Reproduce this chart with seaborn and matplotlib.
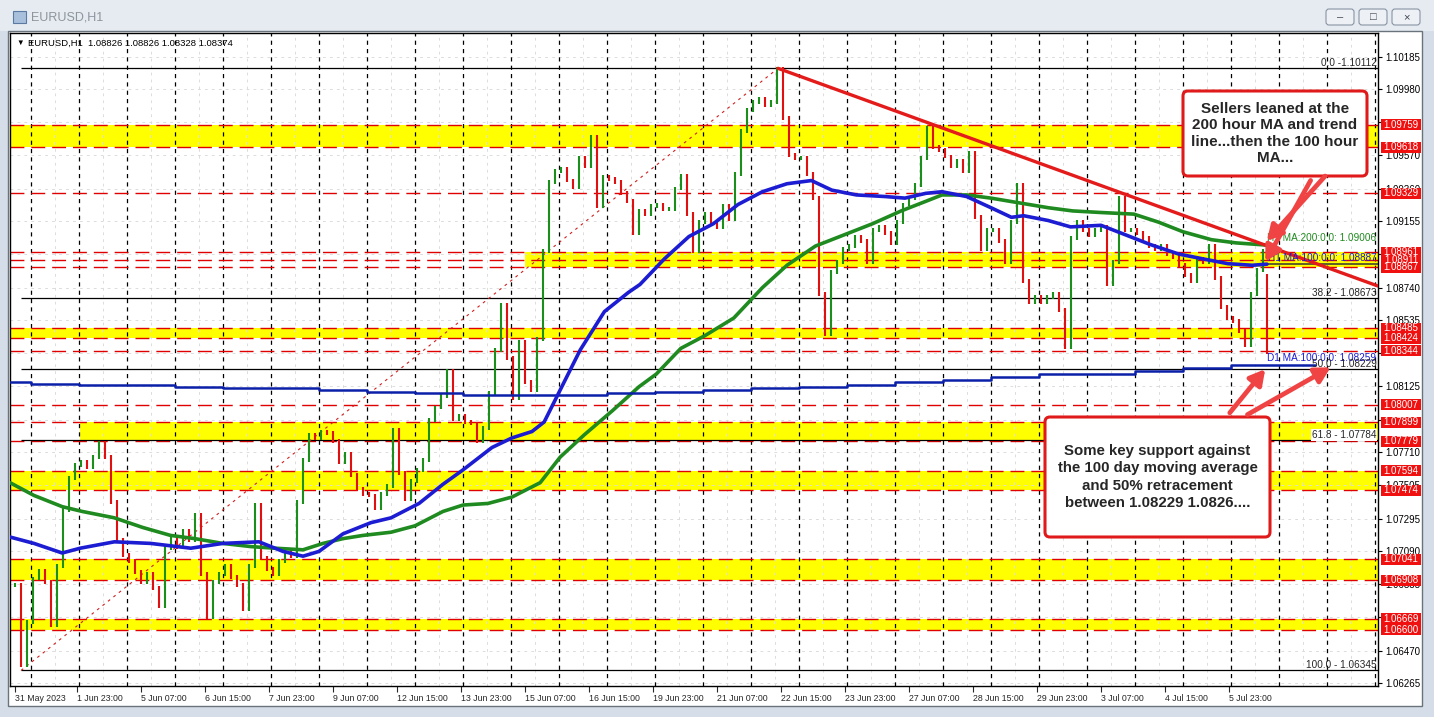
import numpy as np
import matplotlib
matplotlib.use("Agg")
import matplotlib.pyplot as plt
import matplotlib.transforms as mtransforms
from matplotlib.patches import Rectangle, FancyBboxPatch, FancyArrowPatch
import seaborn as sns

# ---- EURUSD H1, bar 0 = 31 May 16:00, closes read every 3 bars ----
bar_step = 3
closes = [
    1.0688, 1.0638, 1.0665, 1.0692, 1.0697, 1.0690, 1.0663, 1.0700,
    1.0735, 1.0755, 1.0763, 1.0765, 1.0762, 1.0768, 1.0777, 1.0768,
    1.0740, 1.0716, 1.0707, 1.0703, 1.0696, 1.0690, 1.0695, 1.0686,
    1.0675, 1.0711, 1.0718, 1.0712, 1.0722, 1.0716, 1.0732, 1.0695,
    1.0668, 1.0690, 1.0695, 1.0700, 1.0693, 1.0688, 1.0673, 1.0700,
    1.0738, 1.0705, 1.0698, 1.0695, 1.0703, 1.0710, 1.0706, 1.0740,
    1.0766, 1.0782, 1.0780, 1.0784, 1.0783, 1.0778, 1.0765, 1.0770,
    1.0757, 1.0748, 1.0745, 1.0744, 1.0736, 1.0745, 1.0750, 1.0785,
    1.0758, 1.0742, 1.0753, 1.0760, 1.0766, 1.0791, 1.0799, 1.0806,
    1.0822, 1.0792, 1.0794, 1.0790, 1.0789, 1.0778, 1.0786, 1.0808,
    1.0835, 1.0863, 1.0830, 1.0805, 1.0840, 1.0815, 1.0810, 1.0842,
    1.0897, 1.0940, 1.0947, 1.0948, 1.0941, 1.0937, 1.0955, 1.0950,
    1.0968, 1.0925, 1.0943, 1.0942, 1.0940, 1.0933, 1.0928, 1.0908,
    1.0922, 1.0920, 1.0925, 1.0926, 1.0923, 1.0923, 1.0936, 1.0944,
    1.0920, 1.0897, 1.0915, 1.0920, 1.0915, 1.0912, 1.0925, 1.0917,
    1.0945, 1.0972, 1.0985, 1.0990, 1.0992, 1.0988, 1.0990, 1.1011,
    1.0980, 1.0957, 1.0955, 1.0955, 1.0945, 1.0930, 1.0870, 1.0845,
    1.0884, 1.0890, 1.0898, 1.0900, 1.0906, 1.0903, 1.0890, 1.0910,
    1.0912, 1.0908, 1.0902, 1.0915, 1.0926, 1.0930, 1.0938, 1.0955,
    1.0974, 1.0962, 1.0960, 1.0956, 1.0950, 1.0953, 1.0947, 1.0958,
    1.0918, 1.0898, 1.0910, 1.0910, 1.0903, 1.0890, 1.0915, 1.0938,
    1.0878, 1.0865, 1.0868, 1.0865, 1.0868, 1.0870, 1.0860, 1.0837,
    1.0905, 1.0915, 1.0910, 1.0907, 1.0910, 1.0912, 1.0876, 1.0890,
    1.0930, 1.0910, 1.0910, 1.0908, 1.0905, 1.0900, 1.0898, 1.0900,
    1.0895, 1.0893, 1.0888, 1.0882, 1.0878, 1.0892, 1.0890, 1.0900,
    1.0880, 1.0862, 1.0855, 1.0853, 1.0847, 1.0838, 1.0870, 1.0885,
    1.0897,
]
last_bar = 626
last_ohlc = [1.08826, 1.08826, 1.08328, 1.08374]

# moving averages (bar index, price)
ma100_x = [-2.5, 9.5, 23.6, 32.6, 49.7, 67.8, 87.9, 103.9, 122, 134, 144, 152, 164, 178,
           188, 202, 214, 224, 238.5, 248.5, 258.5, 264.6, 272.6, 282.6, 294.7, 306.7,
           312.5, 324.7, 337, 349.2, 361.5, 373.7, 386, 398.2, 408.4, 420.7, 435, 445,
           455.4, 463.5, 475.8, 488, 498.2, 504.3, 516.6, 527.8, 543, 553.3, 567.6,
           581.9, 594, 606.4, 618.6, 626]
ma100_y = [1.0718, 1.0714, 1.0708, 1.0711, 1.0715, 1.0714, 1.0711, 1.0714, 1.0715, 1.0709,
           1.0706, 1.0709, 1.0720, 1.0727, 1.0730, 1.0739, 1.0751, 1.0760, 1.0774, 1.0780,
           1.0784, 1.0790, 1.0810, 1.0835, 1.0859, 1.0871, 1.0876, 1.0892, 1.0906, 1.0914,
           1.0926, 1.0934, 1.0939, 1.0941, 1.0935, 1.0932, 1.0931, 1.0930, 1.0933, 1.0934,
           1.0931, 1.0924, 1.0918, 1.0919, 1.0916, 1.0912, 1.0913, 1.0908, 1.0901, 1.0895,
           1.0892, 1.0889, 1.0888, 1.08887]
ma200_x = [-2.5, 9.5, 23.6, 33.6, 49.7, 63.8, 77.8, 89.9, 103.9, 118, 130, 144, 154, 164,
           174, 188, 200, 214, 224, 236.5, 248.5, 262.6, 272.6, 284.7, 298.7, 312, 320.7,
           332.9, 345, 359.4, 373.7, 386, 400.2, 414.5, 428.8, 443.1, 455.4, 463.5, 475.8,
           488, 502.3, 516.6, 528.8, 543, 559.4, 571.7, 583.9, 598.2, 610.5, 626]
ma200_y = [1.0752, 1.0744, 1.0737, 1.0734, 1.0730, 1.0724, 1.0719, 1.0717, 1.0714, 1.0712,
           1.0711, 1.0710, 1.0714, 1.0717, 1.0719, 1.0721, 1.0725, 1.0734, 1.0738, 1.0739,
           1.0743, 1.0752, 1.0768, 1.0782, 1.0797, 1.0812, 1.0820, 1.0836, 1.0844, 1.0855,
           1.0874, 1.0888, 1.0900, 1.0907, 1.0914, 1.0922, 1.0928, 1.0932, 1.0932, 1.0930,
           1.0927, 1.0924, 1.0922, 1.0921, 1.0920, 1.0915, 1.0909, 1.0904, 1.0902, 1.09006]
d1_x = [-2.5, 8, 32, 56, 80, 104, 128, 152, 176, 200, 224, 248, 272, 296, 320, 344, 368,
        392, 416, 440, 464, 488, 512, 536, 560, 584, 608, 650]
d1_y = [1.0815, 1.0814, 1.0813, 1.0813, 1.0812, 1.0811, 1.0811, 1.0810, 1.0809, 1.0808,
        1.0807, 1.0807, 1.0807, 1.0808, 1.0809, 1.0810, 1.0811, 1.0812, 1.0813, 1.0815,
        1.0816, 1.0818, 1.0820, 1.0820, 1.0822, 1.0824, 1.08259, 1.08259]

# drawn objects
trend_x, trend_y = [381.5, 681.5], [1.10112, 1.08750]
fib_x, fib_y = [3, 381.5], [1.06345, 1.10112]
fib_names = ["0.0", "38.2", "50.0", "61.8", "100.0"]
fib_levels = [1.10112, 1.08673, 1.08229, 1.07784, 1.06345]
band_lo = [1.09618, 1.08867, 1.08424, 1.07779, 1.07474, 1.06908, 1.06600]
band_hi = [1.09759, 1.08961, 1.08485, 1.07899, 1.07594, 1.07041, 1.06669]
band_start = [-2.5, 255, -2.5, 32.5, -2.5, -2.5, -2.5]
levels = [1.09759, 1.09618, 1.09329, 1.08961, 1.08911, 1.08867, 1.08485, 1.08424, 1.08344,
          1.08007, 1.07899, 1.07779, 1.07594, 1.07474, 1.07041, 1.06908, 1.06669, 1.06600]
price_ticks = [1.10185, 1.09980, 1.09775, 1.09570, 1.09360, 1.09155, 1.08950, 1.08740,
               1.08535, 1.08330, 1.08125, 1.07915, 1.07710, 1.07505, 1.07295, 1.07090,
               1.06885, 1.06680, 1.06470, 1.06265]
# tick values whose label is fully covered by a red price box
covered_ticks = [1.09775, 1.08950, 1.08330, 1.07915, 1.06680]
date_labels = ["31 May 2023", "1 Jun 23:00", "5 Jun 07:00", "6 Jun 15:00", "7 Jun 23:00",
               "9 Jun 07:00", "12 Jun 15:00", "13 Jun 23:00", "15 Jun 07:00", "16 Jun 15:00",
               "19 Jun 23:00", "21 Jun 07:00", "22 Jun 15:00", "23 Jun 23:00", "27 Jun 07:00",
               "28 Jun 15:00", "29 Jun 23:00", "3 Jul 07:00", "4 Jul 15:00", "5 Jul 23:00"]
date_pos = [0] + [31 + 32 * k for k in range(19)]

X_LEFT, X_RIGHT = -2.5, 681.5
Y_BOT, Y_TOP = 1.06248, 1.10333

sns.set_style("white")
plt.rcParams["font.family"] = ["Liberation Sans", "DejaVu Sans"]
plt.rcParams["lines.scale_dashes"] = False

W, H = 1434, 717
fig = plt.figure(figsize=(W / 100, H / 100), dpi=100, facecolor="#d5dde8")
px = mtransforms.Affine2D().scale(1 / W, -1 / H).translate(0, 1) + fig.transFigure

# window chrome
fig.add_artist(Rectangle((0, 0), W, 31, transform=px, fc="#e6ebf1", ec="none", zorder=-10))
fig.add_artist(Rectangle((8, 31), 1414, 675, transform=px, fc="white", ec="#6a727c", lw=1, zorder=-9))
fig.add_artist(Rectangle((13, 11), 13, 12, transform=px, fc="#a9c0dc", ec="#5b7aa3", lw=0.8, zorder=-8))
fig.text(31, 18, "EURUSD,H1", transform=px, va="center", ha="left", size=9, color="#8d949c")
for x0, sym in zip([1326, 1359, 1392], ["–", "□", "×"]):
    fig.add_artist(FancyBboxPatch((x0, 9), 28, 16, boxstyle="round,pad=0,rounding_size=3",
                                  transform=px, fc="#edf1f6", ec="#8893a2", lw=0.8, zorder=-8))
    fig.text(x0 + 14, 17, sym, transform=px, ha="center", va="center", size=8, color="#404650")

ax = fig.add_axes([10 / W, 1 - 686 / H, 1368 / W, 653 / H])
ax.set_facecolor("white")

# yellow zones
for lo, hi, x0 in zip(band_lo, band_hi, band_start):
    ax.fill_between([x0, X_RIGHT], lo, hi, color="#ffff00", lw=0, zorder=1)

# grid
for p in price_ticks:
    ax.axhline(p, color="#dcdcdc", lw=0.7, ls=(0, (2, 3)), zorder=1.2)
for d in range(20, 682, 24):
    ax.axvline(d, color="#dcdcdc", lw=0.7, ls=(0, (2, 3)), zorder=1.2)
for d in range(8, 682, 24):
    ax.axvline(d, color="black", lw=0.9, ls=(0, (3, 3)), zorder=2)

ax.hlines(levels, X_LEFT, X_RIGHT, colors="#e00000", lw=1.0, linestyles=(0, (10, 5)), zorder=2.2)

# fibonacci
ax.hlines(fib_levels, fib_x[0], X_RIGHT, colors="black", lw=0.9, zorder=2.3)
ax.plot(fib_x, fib_y, color="#d02020", lw=0.8, ls=(0, (2, 3)), zorder=2.4)

# price bars
c = np.array(closes)
idx = np.arange(len(c)) * bar_step
prev = np.r_[c[0], c[:-1]]
up = c >= prev
lo_b = np.minimum(prev, c) - 0.00012
hi_b = np.maximum(prev, c) + 0.00012
ax.vlines(idx[up], lo_b[up], hi_b[up], colors="#1a8f1a", lw=1.5, zorder=3)
ax.vlines(idx[~up], lo_b[~up], hi_b[~up], colors="#e01010", lw=1.5, zorder=3)
ax.vlines(last_bar, last_ohlc[2], last_ohlc[1], colors="#e01010", lw=1.5, zorder=3)

# moving averages
sns.lineplot(x=ma200_x, y=ma200_y, ax=ax, color="#1f8a1f", lw=2.6, zorder=4)
sns.lineplot(x=ma100_x, y=ma100_y, ax=ax, color="#1c1cd2", lw=2.6, zorder=4.1)
sns.lineplot(x=d1_x, y=d1_y, ax=ax, color="#0b20a8", lw=1.8, drawstyle="steps-post", zorder=4)
ax.hlines(ma100_y[-1], last_bar, X_RIGHT, colors="#333333", lw=1.1, zorder=4)

# trend line
ax.plot(trend_x, trend_y, color="#e41b1b", lw=2.4, zorder=4.5)

ax.set_xlim(X_LEFT, X_RIGHT)
ax.set_ylim(Y_BOT, Y_TOP)
ax.set_xlabel("")
ax.set_ylabel("")
for s in ax.spines.values():
    s.set_color("black")
    s.set_linewidth(1)

ax.yaxis.tick_right()
ax.set_yticks(price_ticks)
ax.set_yticklabels(["" if p in covered_ticks else f"{p:.5f}" for p in price_ticks])
ax.tick_params(axis="y", right=True, left=False, direction="out", length=3, pad=2,
               labelsize=7, colors="black")
ax.set_xticks(date_pos)
ax.set_xticklabels(date_labels, ha="left")
ax.tick_params(axis="x", bottom=True, direction="out", length=4, pad=2, labelsize=6.3)

# text labels inside the chart
for name, lvl in zip(fib_names, fib_levels):
    sep = " -" if name == "0.0" else " - "
    bg = dict(fc="white", ec="none", pad=0.5) if name == "61.8" else None
    ax.text(X_RIGHT - 0.8, lvl + 0.00004, f"{name}{sep}{lvl:.5f}", ha="right", va="bottom",
            size=7.2, zorder=5, bbox=bg)
ax.text(X_RIGHT - 0.8, 1.09018, "H1 MA:200:0:0: 1.09006", ha="right", va="bottom",
        size=7.2, color="#1f8a1f", zorder=5)
ax.text(X_RIGHT - 0.8, 1.08897, "H1 MA:100:0:0: 1.08887", ha="right", va="bottom",
        size=7.2, color="#1c1cd2", zorder=5)
ax.text(X_RIGHT - 0.8, 1.08268, "D1 MA:100:0:0: 1.08259", ha="right", va="bottom",
        size=7.2, color="#1c1cd2", zorder=4.9)

# red price labels on the axis
tb = mtransforms.blended_transform_factory(fig.transFigure, ax.transData)
hh = 11 / 15985
order = [4] + [k for k in range(len(levels)) if k != 4]
for k in order:
    lvl = levels[k]
    ax.add_patch(Rectangle((1381 / W, lvl - hh / 2), 40 / W, hh, transform=tb,
                           fc="#f01010", ec="none", clip_on=False, zorder=6))
    ax.text(1401 / W, lvl, f"{lvl:.5f}", transform=tb, ha="center", va="center",
            size=7, color="white", clip_on=False, zorder=7)

# header
fig.text(16, 43, "▼", transform=px, va="center", ha="left", size=5.5, color="black")
fig.text(28, 43, "EURUSD,H1  1.08826 1.08826 1.08328 1.08374", transform=px,
         va="center", ha="left", size=6.8, color="black")

# annotation boxes
notes = [
    ((1183, 91, 1367, 176), "Sellers leaned at the\n200 hour MA and trend\nline...then the 100 hour\nMA...", 11, 1.24),
    ((1045, 417, 1270, 537), "Some key support against\nthe 100 day moving average\nand 50% retracement\nbetween 1.08229 1.0826....", 10.8, 1.33),
]
for (x0, y0, x1, y1), txt, fs, lsp in notes:
    fig.add_artist(FancyBboxPatch((x0, y0), x1 - x0, y1 - y0, boxstyle="round,pad=0,rounding_size=5",
                                  transform=px, fc="white", ec="#e01a1a", lw=2.2, zorder=5))
    fig.text((x0 + x1) / 2, (y0 + y1) / 2, txt, transform=px, ha="center", va="center",
             multialignment="center", size=fs, weight="bold", linespacing=lsp, zorder=6)

arrows = [((1327, 174), (1265, 243)), ((1312, 178), (1264, 264)),
          ((1228, 415), (1267, 367)), ((1245, 416), (1333, 366))]
for a, b in arrows:
    fig.add_artist(FancyArrowPatch(a, b, transform=px, arrowstyle="-|>,head_length=9,head_width=5",
                                   mutation_scale=1, color="#f04444", lw=3.4, zorder=7))

fig.savefig("out.png", dpi=100, facecolor=fig.get_facecolor())
